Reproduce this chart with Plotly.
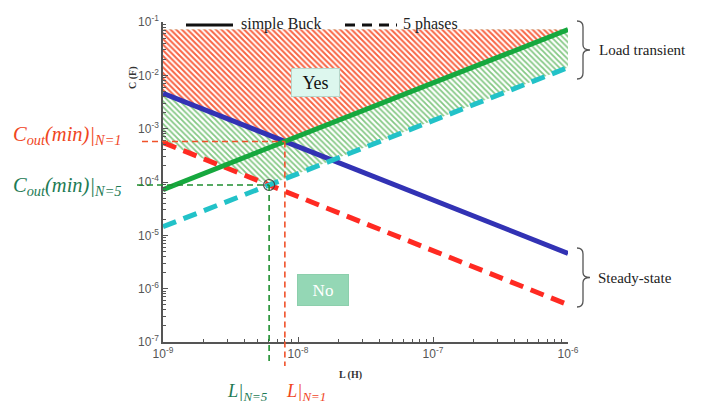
import numpy as np
import plotly.graph_objects as go

# ---- data ----
L_ends = [1e-9, 1e-6]                 # inductance range (H)
C_buck_ss = [4.6e-3, 4.6e-6]          # simple Buck, steady-state
C_5ph_ss = [5.5e-4, 5.0e-7]           # 5 phases, steady-state
C_buck_lt = [7.2e-5, 7.2e-2]          # simple Buck, load transient
C_5ph_lt = [1.45e-5, 1.4e-2]          # 5 phases, load transient
C_top = 7.2e-2                        # top of the hatched design space
x_ticks = [1e-9, 1e-8, 1e-7, 1e-6]
x_ticktext = ["10<sup>-9</sup>", "10<sup>-8</sup>", "10<sup>-7</sup>", "10<sup>-6</sup>"]
y_ticks = [1e-7, 1e-6, 1e-5, 1e-4, 1e-3, 1e-2, 1e-1]
y_ticktext = ["10<sup>-7</sup>", "10<sup>-6</sup>", "10<sup>-5</sup>", "10<sup>-4</sup>",
              "10<sup>-3</sup>", "10<sup>-2</sup>", "10<sup>-1</sup>"]

# page has an 8px body margin: lay out in page pixels, offset into figure
OFF = 8
W, H = 706, 405
ML, MT = 163 - OFF, 22 - OFF
PW, PH = 405, 320
MR, MB = W - ML - PW, H - MT - PH
XR = [-9, -6]
YR = [-7, -1]


def intersect(la, lb, L=L_ends):
    """Crossing of two straight lines in log-log space."""
    x0, x1 = np.log10(L)
    a0, a1 = np.log10(la)
    b0, b1 = np.log10(lb)
    sa, sb = (a1 - a0) / (x1 - x0), (b1 - b0) / (x1 - x0)
    t = (b0 - a0) / (sa - sb)
    return 10 ** (x0 + t), 10 ** (a0 + sa * t)


L_N1, C_N1 = intersect(C_buck_ss, C_buck_lt)
L_N5, C_N5 = intersect(C_5ph_ss, C_5ph_lt)


def px2x(px):
    return (px - OFF - ML) / PW


def py2y(py):
    return (MT + PH - (py - OFF)) / PH


def dx(L):
    return (np.log10(L) - XR[0]) / (XR[1] - XR[0])


def dy(C):
    return (np.log10(C) - YR[0]) / (YR[1] - YR[0])


fig = go.Figure()

# hatched regions
fig.add_trace(go.Scatter(
    x=[L_ends[0], L_N5, L_ends[1], L_ends[1], L_ends[0], L_ends[0]],
    y=[C_5ph_ss[0], C_N5, C_5ph_lt[1], C_top, C_top, C_5ph_ss[0]],
    mode="lines", line=dict(width=0), fill="toself", fillcolor="white",
    fillpattern=dict(shape="\\", size=4, solidity=0.45, fgcolor="#84c884", bgcolor="white",
                     fgopacity=1),
    hoverinfo="skip", showlegend=False))
fig.add_trace(go.Scatter(
    x=[L_ends[0], L_N1, L_ends[1], L_ends[0], L_ends[0]],
    y=[C_buck_ss[0], C_N1, C_buck_lt[1], C_top, C_buck_ss[0]],
    mode="lines", line=dict(width=0), fill="toself", fillcolor="white",
    fillpattern=dict(shape="\\", size=4, solidity=0.5, fgcolor="#f86444", bgcolor="white",
                     fgopacity=1),
    hoverinfo="skip", showlegend=False))

# constraint lines
fig.add_trace(go.Scatter(x=L_ends, y=C_buck_ss, mode="lines",
                         line=dict(color="#3232b4", width=5), name="simple Buck steady-state"))
fig.add_trace(go.Scatter(x=L_ends, y=C_5ph_ss, mode="lines",
                         line=dict(color="#ff2a22", width=5, dash="14px,8px"), name="5 phases steady-state"))
fig.add_trace(go.Scatter(x=L_ends, y=C_5ph_lt, mode="lines",
                         line=dict(color="#22c2c8", width=5, dash="14px,8px"), name="5 phases load transient"))
fig.add_trace(go.Scatter(x=L_ends, y=C_buck_lt, mode="lines",
                         line=dict(color="#16a83e", width=5), name="simple Buck load transient"))
fig.add_trace(go.Scatter(x=[L_N5], y=[C_N5], mode="markers",
                         marker=dict(symbol="circle-open", size=11, color="#444", line=dict(width=1.2)),
                         showlegend=False))

shapes = []
red_c, green_c = "#f0522a", "#1f8f30"
# guide lines
shapes.append(dict(type="line", xref="paper", yref="paper", x0=px2x(142), x1=dx(L_N1),
                   y0=dy(C_N1), y1=dy(C_N1), line=dict(color=red_c, width=1.6, dash="6px,4px")))
shapes.append(dict(type="line", xref="paper", yref="paper", x0=dx(L_N1), x1=dx(L_N1),
                   y0=dy(C_N1), y1=py2y(366), line=dict(color=red_c, width=1.6, dash="6px,4px")))
shapes.append(dict(type="line", xref="paper", yref="paper", x0=px2x(137), x1=dx(L_N5),
                   y0=dy(C_N5), y1=dy(C_N5), line=dict(color=green_c, width=1.6, dash="6px,4px")))
shapes.append(dict(type="line", xref="paper", yref="paper", x0=dx(L_N5), x1=dx(L_N5),
                   y0=dy(C_N5), y1=py2y(363), line=dict(color=green_c, width=1.6, dash="6px,4px")))

# legend samples
shapes.append(dict(type="line", xref="paper", yref="paper", x0=px2x(186), x1=px2x(233),
                   y0=py2y(25), y1=py2y(25), line=dict(color="#111", width=3)))
shapes.append(dict(type="line", xref="paper", yref="paper", x0=px2x(345), x1=px2x(397),
                   y0=py2y(25), y1=py2y(25), line=dict(color="#111", width=3, dash="10px,7px")))


def brace(y1, y2, xl=577, xm=583, xt=590):
    ym = (y1 + y2) / 2
    pts = [("M", xl, y1), ("Q", xm, y1, xm, y1 + 6), ("L", xm, ym - 5),
           ("Q", xm, ym, xt, ym), ("Q", xm, ym, xm, ym + 5), ("L", xm, y2 - 6),
           ("Q", xm, y2, xl, y2)]
    s = ""
    for p in pts:
        vals = p[1:]
        coords = [f"{px2x(vals[i]):.5f},{py2y(vals[i+1]):.5f}" for i in range(0, len(vals), 2)]
        s += p[0] + " " + " ".join(coords) + " "
    return s.strip()


shapes.append(dict(type="path", xref="paper", yref="paper", path=brace(21, 79),
                   line=dict(color="#555", width=1.3)))
shapes.append(dict(type="path", xref="paper", yref="paper", path=brace(248, 307),
                   line=dict(color="#555", width=1.3)))

serif = "Liberation Serif"
ann = []


def A(text, px, py, size, color, xanchor="left", **kw):
    ann.append(dict(text=text, x=px2x(px), y=py2y(py), xref="paper", yref="paper",
                    showarrow=False, xanchor=xanchor, yanchor="middle",
                    font=dict(family=kw.pop("family", serif), size=size, color=color), **kw))


A("simple Buck", 239, 24, 16, "#222")
A("5 phases", 401, 24, 16, "#222")
A("Load transient", 597, 50, 15, "#222")
A("Steady-state", 596, 278, 15, "#222")
A("<i>C<sub>out</sub>(min)|<sub>N=1</sub></i>", 11, 136, 20.5, "#f0461e")
A("<i>C<sub>out</sub>(min)|<sub>N=5</sub></i>", 11, 186, 20.5, "#1e7b55")
A("<i>L|<sub>N=5</sub></i>", 225, 392, 18.5, "#1e7b55")
A("<i>L|<sub>N=1</sub></i>", 284, 392, 18.5, "#f0461e")
A("<b>C (F)</b>", 133, 78, 10, "#333", xanchor="center", textangle=-90)
A("<b>L (H)</b>", 350, 375, 10, "#333", xanchor="center")
A("Yes", 315, 82, 18, "#111", xanchor="center", bgcolor="#ddf7ee", bordercolor="#b6d6ca",
  borderwidth=1, width=45, height=25)
A("No", 323, 290, 17, "white", xanchor="center", bgcolor="#94d7b5", bordercolor="#8ccfac",
  borderwidth=1, width=48, height=28)

axis_common = dict(type="log", showline=True, linecolor="#555", linewidth=1.5, ticks="inside",
                   ticklen=5, tickcolor="#555", showgrid=False, automargin=False,
                   zeroline=False, tickfont=dict(family="Liberation Sans", size=12, color="#555"),
                   minor=dict(ticks="inside", ticklen=3, tickcolor="#555", dtick="D1", showgrid=False))

fig.update_layout(
    width=W, height=H, margin=dict(l=ML, r=MR, t=MT, b=MB, autoexpand=False),
    plot_bgcolor="white", paper_bgcolor="white", showlegend=False,
    xaxis=dict(range=XR, tickvals=x_ticks, ticktext=x_ticktext, **axis_common),
    yaxis=dict(range=YR, tickvals=y_ticks, ticktext=y_ticktext, **axis_common),
    shapes=shapes, annotations=ann,
)

fig.write_html("out.html")
